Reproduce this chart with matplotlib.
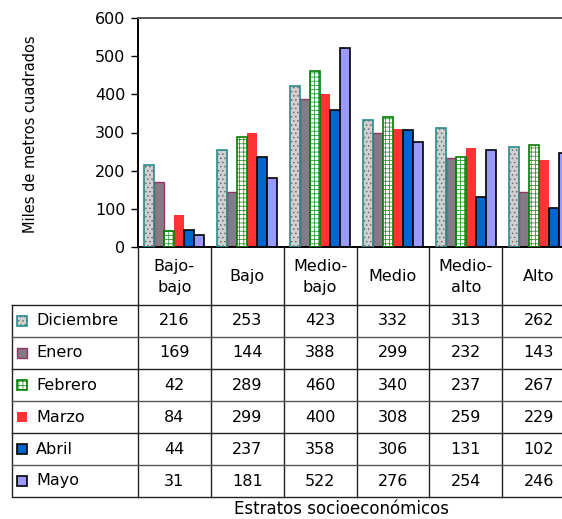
import numpy as np
import matplotlib
matplotlib.use('Agg')
import matplotlib.pyplot as plt
from matplotlib.patches import Rectangle

plt.rcParams['font.family'] = ['DejaVu Sans']
plt.rcParams['hatch.linewidth'] = 0.6

# datos
estratos = ['Bajo-\nbajo', 'Bajo', 'Medio-\nbajo', 'Medio', 'Medio-\nalto', 'Alto']
meses = ['Diciembre', 'Enero', 'Febrero', 'Marzo', 'Abril', 'Mayo']
diciembre = [216, 253, 423, 332, 313, 262]
enero = [169, 144, 388, 299, 232, 143]
febrero = [42, 289, 460, 340, 237, 267]
marzo = [84, 299, 400, 308, 259, 229]
abril = [44, 237, 358, 306, 131, 102]
mayo = [31, 181, 522, 276, 254, 246]
series = [diciembre, enero, febrero, marzo, abril, mayo]

# estilo: (relleno, hatch, color hatch, borde, grosor borde)
estilos = [
    ('#d0d0d0', '....', '#707070', '#2a8c8c', 1.2),
    ('#857a85', None, None, '#993366', 1.0),
    ('white', '++++', '#2e9a2e', '#008000', 1.2),
    ('#ff3333', None, None, 'none', 0),
    ('#0066cc', None, None, 'black', 1.2),
    ('#9999ff', None, None, 'black', 1.2),
]

W, H = 562, 519
fig = plt.figure(figsize=(W / 100, H / 100), dpi=100)
fs = 11.5

# pixel layout
x_izq, x_der = 138, 575
y_sup, y_inf = 18, 247
ax = fig.add_axes([x_izq / W, 1 - y_inf / H, (x_der - x_izq) / W, (y_inf - y_sup) / H])

n = len(estratos)
x = np.arange(n)
ancho = 0.137
for i, (vals, (fc, hatch, hc, ec, lw)) in enumerate(zip(series, estilos)):
    pos = x + (i - 2.5) * ancho
    if hatch:
        ax.bar(pos, vals, width=ancho, color=fc, hatch=hatch, edgecolor=hc, linewidth=0, zorder=2)
        ax.bar(pos, vals, width=ancho, fill=False, edgecolor=ec, linewidth=lw, zorder=3)
    else:
        ax.bar(pos, vals, width=ancho, color=fc, edgecolor=ec, linewidth=lw, zorder=2)

ax.set_xlim(-0.5, n - 0.5)
ax.set_ylim(0, 600)
ax.set_yticks(range(0, 601, 100))
ax.tick_params(axis='y', labelsize=fs, length=5, width=1, direction='out', pad=4)
ax.set_xticks([])
ax.spines['left'].set_linewidth(1.4)
ax.spines['bottom'].set_linewidth(1.4)
ax.spines['top'].set_color('#555555')
ax.spines['top'].set_linewidth(1.4)
ax.set_ylabel('Miles de metros cuadrados', fontsize=10.5)
ax.yaxis.set_label_coords((38 - x_izq) / (x_der - x_izq), (y_inf - 134) / (y_inf - y_sup))

# tabla de datos
tx_izq = 12
ty_inf = 497
tab = fig.add_axes([0, 1 - ty_inf / H, 1, (ty_inf - y_inf) / H])
tab.set_xlim(0, W)
tab.set_ylim(ty_inf, y_inf)
tab.axis('off')

col_w = (x_der - x_izq) / n
y_hdr = 305
fila_h = (ty_inf - y_hdr) / len(meses)
lc = '#222222'

# lineas verticales
for j in range(n + 1):
    xx = x_izq + j * col_w
    tab.plot([xx, xx], [y_inf, ty_inf], color=lc, lw=1.0, clip_on=False)
tab.plot([tx_izq, tx_izq], [y_hdr, ty_inf], color=lc, lw=1.0)
# lineas horizontales
for k in range(len(meses) + 1):
    yy = y_hdr + k * fila_h
    tab.plot([tx_izq, x_der], [yy, yy], color=lc if k % 2 == 0 else '#555555', lw=1.0, clip_on=False)

# encabezados
for j, nom in enumerate(estratos):
    tab.text(x_izq + (j + 0.5) * col_w, (y_inf + y_hdr) / 2 + 1, nom, ha='center', va='center',
             fontsize=fs, linespacing=1.45)

# filas
for k, (mes, vals, (fc, hatch, hc, ec, lw)) in enumerate(zip(meses, series, estilos)):
    yc = y_hdr + (k + 0.5) * fila_h
    if hatch:
        tab.add_patch(Rectangle((17, yc - 5), 10, 10, facecolor=fc, hatch=hatch, edgecolor=hc, linewidth=0))
        tab.add_patch(Rectangle((17, yc - 5), 10, 10, fill=False, edgecolor=ec, linewidth=lw))
    else:
        tab.add_patch(Rectangle((17, yc - 5), 10, 10, facecolor=fc, edgecolor=ec, linewidth=lw))
    tab.text(36, yc, mes, ha='left', va='center', fontsize=fs)
    for j, v in enumerate(vals):
        tab.text(x_izq + (j + 0.5) * col_w, yc, str(v), ha='center', va='center', fontsize=fs)

fig.text(342 / W, 1 - 509 / H, 'Estratos socioeconómicos', ha='center', va='center', fontsize=12)

fig.savefig('out.png', dpi=100)
